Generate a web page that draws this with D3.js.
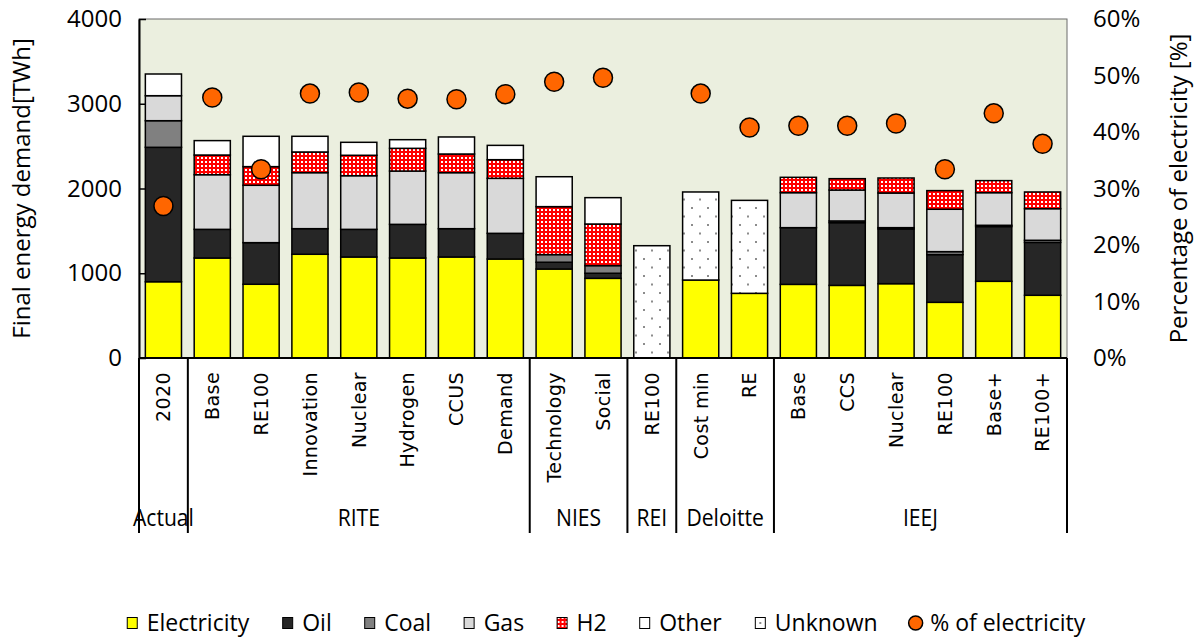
<!DOCTYPE html>
<html>
<head>
<meta charset="utf-8">
<script src="https://cdn.jsdelivr.net/npm/d3@7"></script>
<style>
  html, body { margin: 0; padding: 0; background: #ffffff; }
  svg { display: block; }
  text { fill: #000; }
</style>
</head>
<body>
<svg id="chart" width="1195" height="637"></svg>
<script>
// Scenario categories and their study groups
const categories = ["2020","Base","RE100","Innovation","Nuclear","Hydrogen","CCUS","Demand",
  "Technology","Social","RE100","Cost min","RE","Base","CCS","Nuclear","RE100","Base+","RE100+"];
const groupNames = ["Actual","RITE","NIES","REI","Deloitte","IEEJ"];
const groupSizes = [1, 7, 2, 1, 2, 6];

// Final energy demand by carrier [TWh]
const electricity = [900,1180,870,1224,1192,1180,1192,1168,1050,940,0,920,763,869,857,877,657,905,740];
const oil         = [1586,338,491,302,326,397,334,303,80,60,0,0,0,669,740,646,563,646,624];
const coal        = [314,0,0,0,0,0,0,0,90,90,0,0,0,0,20,15,35,15,25];
const gas         = [295,645,677,661,633,629,661,649,0,0,0,0,0,413,365,409,500,385,373];
const h2          = [0,232,220,244,241,268,220,220,566,491,0,0,0,181,134,177,220,142,197];
const other       = [256,170,358,185,153,102,201,169,353,311,0,0,0,0,0,0,0,0,0];
const unknown     = [0,0,0,0,0,0,0,0,0,0,1325,1039,1097,0,0,0,0,0,0];

// Share of electricity in final energy demand [%]
const pctElectricity = [26.9,46.1,33.4,46.8,47.0,45.9,45.8,46.7,48.9,49.6,null,46.8,40.8,41.1,41.1,41.5,33.4,43.3,37.9];

const leftTicks  = [0,1000,2000,3000,4000];
const rightTicks = [0,10,20,30,40,50,60];

const seriesKeys   = ["Electricity","Oil","Coal","Gas","H2","Other","Unknown"];
const seriesValues = [electricity, oil, coal, gas, h2, other, unknown];
const fills = {
  Electricity: "#FFFF00", Oil: "#262626", Coal: "#808080", Gas: "#D9D9D9",
  H2: "url(#h2pat)", Other: "#FFFFFF", Unknown: "url(#unkpat)"
};

const svg = d3.select("#chart");
const plot = { left: 139, right: 1067, top: 19, bottom: 358 };

// Fill patterns
const defs = svg.append("defs");
const h2pat = defs.append("pattern").attr("id","h2pat")
  .attr("patternUnits","userSpaceOnUse").attr("width",4).attr("height",4);
h2pat.append("rect").attr("width",4).attr("height",4).attr("fill","#FF0000");
h2pat.append("rect").attr("x",1).attr("y",1).attr("width",2).attr("height",2).attr("fill","#FFFFFF");

const unkpat = defs.append("pattern").attr("id","unkpat")
  .attr("patternUnits","userSpaceOnUse").attr("width",16).attr("height",17);
unkpat.append("rect").attr("width",16).attr("height",17).attr("fill","#FFFFFF");
unkpat.append("rect").attr("x",3).attr("y",3).attr("width",2).attr("height",2).attr("fill","#8C8C8C");
unkpat.append("rect").attr("x",11).attr("y",11.5).attr("width",2).attr("height",2).attr("fill","#8C8C8C");

// Scales
const x = d3.scaleBand().domain(d3.range(categories.length))
  .range([plot.left, plot.right]).paddingInner(0.26).paddingOuter(0.13);
const y = d3.scaleLinear().domain([0,4000]).range([plot.bottom, plot.top]);
const y2 = d3.scaleLinear().domain([0,60]).range([plot.bottom, plot.top]);

// Plot background
svg.append("rect")
  .attr("x", plot.left).attr("y", plot.top)
  .attr("width", plot.right - plot.left).attr("height", plot.bottom - plot.top)
  .attr("fill", "#EBEFDF").attr("stroke", "#6b6b6b").attr("stroke-width", 1);

// Stacked bars
const rows = categories.map((c, i) => {
  const r = { idx: i };
  seriesKeys.forEach((k, j) => r[k] = seriesValues[j][i]);
  return r;
});
const stacked = d3.stack().keys(seriesKeys)(rows);

const barG = svg.append("g");
stacked.forEach(layer => {
  barG.append("g").selectAll("rect")
    .data(layer.filter(d => d[1] - d[0] > 0))
    .join("rect")
    .attr("x", d => x(d.data.idx))
    .attr("width", x.bandwidth())
    .attr("y", d => y(d[1]))
    .attr("height", d => y(d[0]) - y(d[1]))
    .attr("fill", fills[layer.key])
    .attr("stroke", "#000")
    .attr("stroke-width", 1.5);
});

// Electricity share markers
svg.append("g").selectAll("circle")
  .data(pctElectricity.map((v, i) => ({ v, i })).filter(d => d.v !== null))
  .join("circle")
  .attr("cx", d => x(d.i) + x.bandwidth() / 2)
  .attr("cy", d => y2(d.v))
  .attr("r", 9.5)
  .attr("fill", "#FF6600")
  .attr("stroke", "#000")
  .attr("stroke-width", 1.5);

// Left axis
const leftAxis = svg.append("g")
  .attr("transform", `translate(${plot.left},0)`)
  .call(d3.axisLeft(y).tickValues(leftTicks).tickSizeInner(-7).tickSizeOuter(0).tickPadding(17).tickFormat(d3.format("d")));
leftAxis.select(".domain").attr("stroke", "#000").attr("stroke-width", 2);
leftAxis.selectAll(".tick line").attr("stroke", "#000").attr("stroke-width", 1.5);
leftAxis.selectAll("text").attr("font-family", "'Open Sans', sans-serif").attr("font-size", 24).attr("fill", "#000");

// Right axis
const rightAxis = svg.append("g")
  .attr("transform", `translate(${plot.right},0)`)
  .call(d3.axisRight(y2).tickValues(rightTicks).tickSize(0).tickPadding(26).tickFormat(d => d + "%"));
rightAxis.select(".domain").remove();
rightAxis.selectAll("text").attr("font-family", "'Open Sans', sans-serif").attr("font-size", 24).attr("fill", "#000");

// Category axis: baseline, group separators, labels
const axisBottomY = 533;
svg.append("line")
  .attr("x1", plot.left).attr("x2", plot.right)
  .attr("y1", plot.bottom).attr("y2", plot.bottom)
  .attr("stroke", "#000").attr("stroke-width", 2);

const step = x.step();
const bounds = [0];
groupSizes.forEach(n => bounds.push(bounds[bounds.length - 1] + n));
svg.append("g").selectAll("line")
  .data(bounds)
  .join("line")
  .attr("x1", b => plot.left + b * step).attr("x2", b => plot.left + b * step)
  .attr("y1", plot.bottom).attr("y2", axisBottomY)
  .attr("stroke", "#000").attr("stroke-width", 2);

svg.append("g").selectAll("text")
  .data(categories)
  .join("text")
  .attr("transform", (d, i) => `translate(${x(i) + x.bandwidth() / 2},372) rotate(-90)`)
  .attr("text-anchor", "end")
  .attr("dy", "0.36em")
  .attr("font-family", "'DejaVu Sans', sans-serif")
  .attr("font-size", 19)
  .attr("letter-spacing", 0.4)
  .text(d => d);

svg.append("g").selectAll("g")
  .data(groupNames)
  .join("g")
  .attr("transform", (d, i) => `translate(${plot.left + (bounds[i] + bounds[i + 1]) / 2 * step},526) scale(0.88,1)`)
  .append("text")
  .attr("text-anchor", "middle")
  .attr("font-family", "'Open Sans', sans-serif")
  .attr("font-size", 24)
  .text(d => d);

// Axis titles
svg.append("text")
  .attr("transform", `translate(30,${(plot.top + plot.bottom) / 2}) rotate(-90)`)
  .attr("text-anchor", "middle")
  .attr("font-family", "'Open Sans', sans-serif")
  .attr("font-size", 24)
  .text("Final energy demand[TWh]");

svg.append("text")
  .attr("transform", `translate(1170,${(plot.top + plot.bottom) / 2}) rotate(-90)`)
  .attr("text-anchor", "middle")
  .attr("dy", "0.7em")
  .attr("font-family", "'Open Sans', sans-serif")
  .attr("font-size", 24)
  .text("Percentage of electricity [%]");

// Legend
const legendItems = [
  { label: "Electricity", fill: fills.Electricity, shape: "rect" },
  { label: "Oil", fill: fills.Oil, shape: "rect" },
  { label: "Coal", fill: fills.Coal, shape: "rect" },
  { label: "Gas", fill: fills.Gas, shape: "rect" },
  { label: "H2", fill: fills.H2, shape: "rect" },
  { label: "Other", fill: fills.Other, shape: "rect" },
  { label: "Unknown", fill: "#FFFFFF", shape: "rect", dot: true },
  { label: "% of electricity", fill: "#FF6600", shape: "circle" }
];
const legendY = 623, markerSize = 11, markerGap = 9, itemGap = 33;
const legend = svg.append("g");
const items = legend.selectAll("g").data(legendItems).join("g");
items.append("text")
  .attr("x", markerSize + markerGap)
  .attr("y", legendY)
  .attr("dy", "0.36em")
  .attr("font-family", "'Open Sans', sans-serif")
  .attr("font-size", 23)
  .text(d => d.label);
items.each(function(d) {
  const g = d3.select(this);
  if (d.shape === "rect") {
    g.append("rect").attr("x", 0.5).attr("y", legendY - markerSize / 2)
      .attr("width", markerSize - 1).attr("height", markerSize)
      .attr("fill", d.fill).attr("stroke", "#000").attr("stroke-width", 1);
    if (d.dot) {
      g.append("rect").attr("x", markerSize / 2 - 1).attr("y", legendY - 1)
        .attr("width", 2).attr("height", 2).attr("fill", "#8C8C8C");
    }
  } else {
    g.append("circle").attr("cx", markerSize / 2).attr("cy", legendY).attr("r", 7)
      .attr("fill", d.fill).attr("stroke", "#000").attr("stroke-width", 1.5);
  }
});
const widths = [];
items.each(function() { widths.push(this.getBBox().width); });
const total = d3.sum(widths) + itemGap * (widths.length - 1);
let cursor = 607 - total / 2;
items.attr("transform", (d, i) => {
  const t = `translate(${cursor},0)`;
  cursor += widths[i] + itemGap;
  return t;
});
</script>
</body>
</html>
